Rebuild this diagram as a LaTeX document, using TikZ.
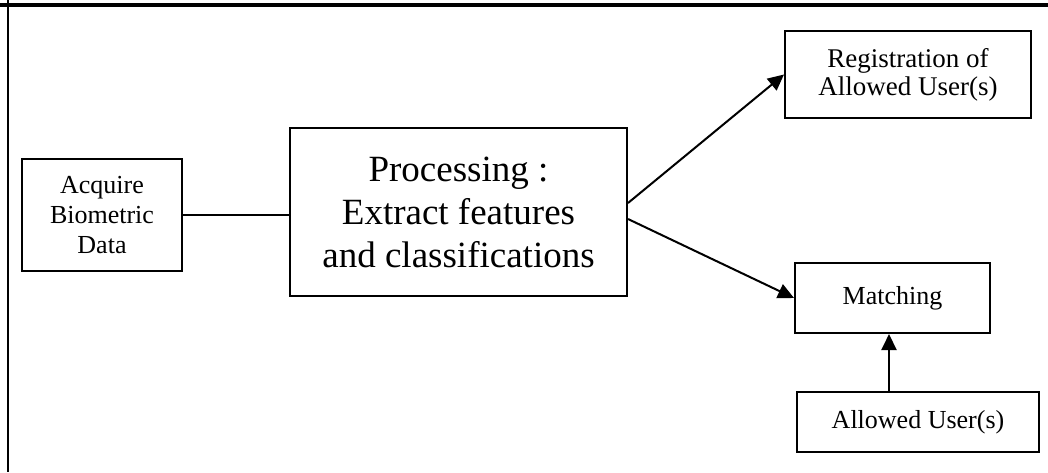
\documentclass[tikz,border=0pt]{standalone}
\usepackage{fontspec}
\setmainfont{Liberation Serif}
\usetikzlibrary{arrows.meta}
\begin{document}
\begin{tikzpicture}[x=1pt,y=-1pt,
  box/.style={draw=black,line width=2pt,align=center,inner sep=0pt,
    font=\fontsize{26}{30}\selectfont},
  bigbox/.style={box,font=\fontsize{37}{43}\selectfont},
  conn/.style={draw=black,line width=2pt},
  arr/.style={conn,-{Triangle[length=16pt,width=15pt]}}]
\useasboundingbox (0,0) rectangle (1048,472);
\fill[white] (0,0) rectangle (1048,472);
% outer frame (top and left edges)
\draw[line width=3.5pt] (0,5) -- (1048,5);
\draw[line width=2.5pt] (8,0) -- (8,472);
% nodes
\node[box,minimum width=160pt,minimum height=112pt] (acq) at (102,215) {Acquire\\Biometric\\Data};
\node[bigbox,minimum width=337pt,minimum height=168pt] (proc) at (458.5,212) {Processing :\\Extract features\\and classifications};
\node[box,minimum width=246pt,minimum height=87pt,font=\fontsize{27}{28}\selectfont] (reg) at (908,74.5) {Registration of\\Allowed User(s)};
\node[box,minimum width=195pt,minimum height=70pt] (match) at (892.5,298) {Matching};
\node[box,minimum width=242pt,minimum height=60pt] (allow) at (918,422) {Allowed User(s)};
% connectors
\draw[conn] (acq.east) -- (acq.east -| proc.west);
\draw[arr] ([yshift=9pt]proc.east) -- (reg.west);
\draw[arr] ([yshift=-7pt]proc.east) -- (match.west);
\draw[arr] ([xshift=-3.5pt]match.south |- allow.north) -- ([xshift=-3.5pt]match.south);
\end{tikzpicture}
\end{document}
